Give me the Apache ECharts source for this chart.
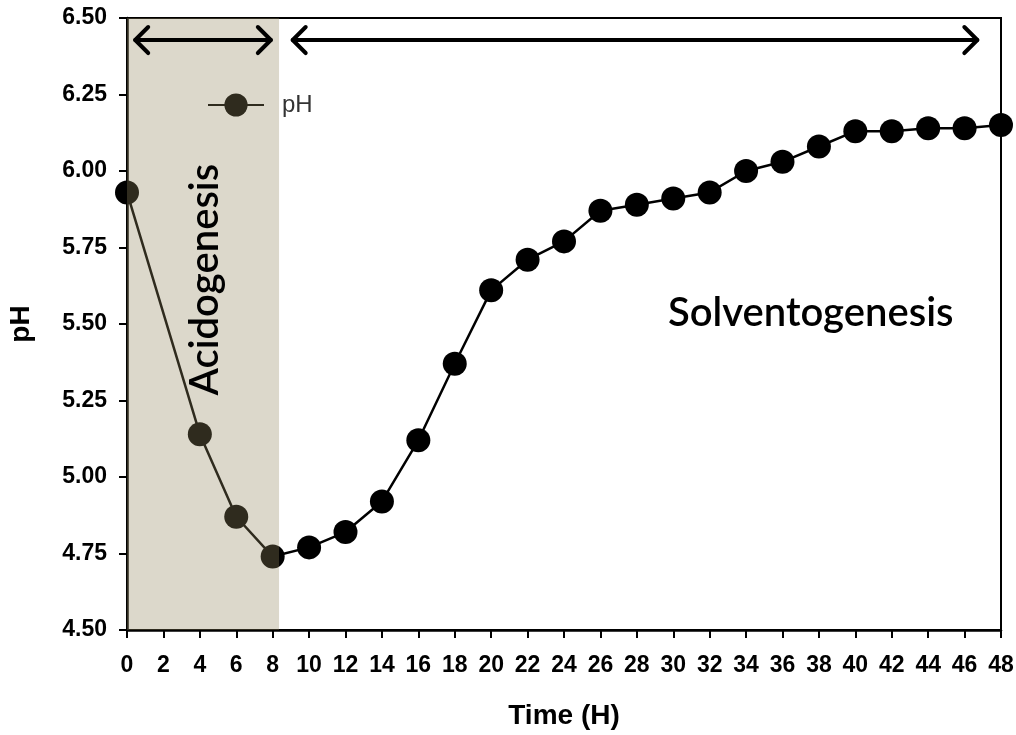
<!DOCTYPE html>
<html>
<head>
<meta charset="utf-8">
<script src="https://cdn.jsdelivr.net/npm/echarts@6/dist/echarts.min.js"></script>
<style>html,body{margin:0;padding:0;background:#fff}#c{width:1016px;height:735px}</style>
</head>
<body>
<div id="c"></div>
<script>
// ---- data ----
var timeH = [0, 4, 6, 8, 10, 12, 14, 16, 18, 20, 22, 24, 26, 28, 30, 32, 34, 36, 38, 40, 42, 44, 46, 48];
var phValues = [5.93, 5.14, 4.87, 4.74, 4.77, 4.82, 4.92, 5.12, 5.37, 5.61, 5.71, 5.77, 5.87, 5.89, 5.91, 5.93, 6.00, 6.03, 6.08, 6.13, 6.13, 6.14, 6.14, 6.15];
var acidoPhase = [0, 8.35];            // shaded time range (H)
var arrowAcido = [0.45, 7.9, 6.428];   // [fromX, toX, y]
var arrowSolvent = [9.1, 46.7, 6.428];
var labelAcido = ['Acidogenesis', 4.3, 5.645];
var labelSolvent = ['Solventogenesis', 37.55, 5.535];
var xTicks = {min: 0, max: 48, interval: 2};
var yTicks = {min: 4.5, max: 6.5, interval: 0.25};

var chart = echarts.init(document.getElementById('c'));
var AX_FONT = '"Liberation Sans", Arial, sans-serif';

function arrowItem(params, api) {
  var p1 = api.coord([api.value(0), api.value(2)]);
  var p2 = api.coord([api.value(1), api.value(2)]);
  var h = 13;
  var st = {stroke: '#000', lineWidth: 4, lineCap: 'round', lineJoin: 'round', fill: null};
  return {
    type: 'group',
    children: [
      {type: 'line', shape: {x1: p1[0], y1: p1[1], x2: p2[0], y2: p2[1]}, style: st},
      {type: 'polyline', shape: {points: [[p1[0] + h, p1[1] - h], [p1[0], p1[1]], [p1[0] + h, p1[1] + h]]}, style: st},
      {type: 'polyline', shape: {points: [[p2[0] - h, p2[1] - h], [p2[0], p2[1]], [p2[0] - h, p2[1] + h]]}, style: st}
    ]
  };
}

function textItem(label, rot, size) {
  return function (params, api) {
    var p = api.coord([api.value(1), api.value(2)]);
    return {
      type: 'text',
      x: p[0], y: p[1],
      rotation: rot,
      style: {
        text: label,
        x: 0, y: 0,
        align: 'center', verticalAlign: 'middle',
        font: '600 ' + size + 'px Lato, "Open Sans", sans-serif',
        fill: '#000'
      }
    };
  };
}

var option = {
  animation: false,
  backgroundColor: '#fff',
  grid: {left: 127, right: 15, top: 18, bottom: 105, containLabel: false, outerBoundsMode: 'none',
    show: true, borderColor: '#000', borderWidth: 2, backgroundColor: 'transparent'},
  legend: {
    data: ['pH'],
    left: 202, top: 88,
    itemWidth: 56, itemHeight: 29,
    textStyle: {fontFamily: AX_FONT, fontSize: 24, color: '#333', padding: [0, 0, 0, 13]}
  },
  xAxis: {
    type: 'value', min: xTicks.min, max: xTicks.max, interval: xTicks.interval,
    name: 'Time (H)', nameLocation: 'middle', nameGap: 72,
    nameTextStyle: {fontFamily: AX_FONT, fontWeight: 'bold', fontSize: 28, color: '#000'},
    axisLine: {lineStyle: {color: '#000', width: 2.5}},
    axisTick: {show: true, length: 8, lineStyle: {color: '#000', width: 2}},
    axisLabel: {fontFamily: AX_FONT, fontWeight: 'bold', fontSize: 23, color: '#000', margin: 24},
    splitLine: {show: false}
  },
  yAxis: {
    type: 'value', min: yTicks.min, max: yTicks.max, interval: yTicks.interval,
    name: 'pH', nameLocation: 'middle', nameGap: 92, nameRotate: 90,
    nameTextStyle: {fontFamily: AX_FONT, fontWeight: 'bold', fontSize: 28, color: '#000'},
    axisLine: {show: true, lineStyle: {color: '#000', width: 2.5}},
    axisTick: {show: true, length: 8, lineStyle: {color: '#000', width: 2}},
    axisLabel: {fontFamily: AX_FONT, fontWeight: 'bold', fontSize: 23, color: '#000', margin: 20,
      formatter: function (v) { return v.toFixed(2); }},
    splitLine: {show: false}
  },
  series: [
    {
      name: 'pH', type: 'line', z: 2,
      data: timeH.map(function (t, i) { return [t, phValues[i]]; }),
      symbol: 'circle', symbolSize: 24, clip: false,
      lineStyle: {color: '#000', width: 2.5},
      itemStyle: {color: '#000'}
    },
    {
      name: 'shade', type: 'custom', z: 6, silent: true, clip: false,
      data: [[acidoPhase[0], acidoPhase[1]]],
      renderItem: function (params, api) {
        var a = api.coord([api.value(0), yTicks.max]);
        var b = api.coord([api.value(1), yTicks.min]);
        return {type: 'rect', shape: {x: a[0], y: a[1], width: b[0] - a[0], height: b[1] - a[1]},
          style: {fill: 'rgba(145,135,92,0.32)'}};
      }
    },
    {
      name: 'arrows', type: 'custom', z: 7, silent: true, clip: false,
      data: [arrowAcido, arrowSolvent],
      renderItem: arrowItem
    },
    {
      name: 'acidoLabel', type: 'custom', z: 7, silent: true, clip: false,
      data: [[0, labelAcido[1], labelAcido[2]]],
      renderItem: textItem(labelAcido[0], Math.PI / 2, 40)
    },
    {
      name: 'solventLabel', type: 'custom', z: 7, silent: true, clip: false,
      data: [[0, labelSolvent[1], labelSolvent[2]]],
      renderItem: textItem(labelSolvent[0], 0, 40)
    }
  ]
};
chart.setOption(option);
</script>
</body>
</html>
